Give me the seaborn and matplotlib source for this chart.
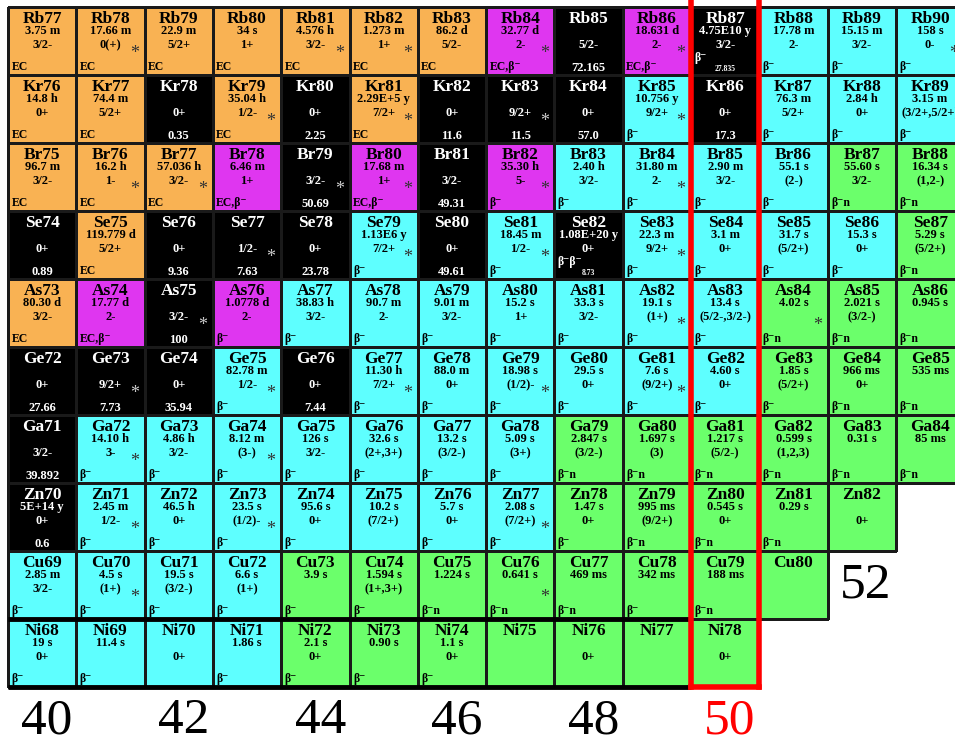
import numpy as np
import pandas as pd
import seaborn as sns
import matplotlib.pyplot as plt
from matplotlib.colors import ListedColormap

# chart of nuclides around N=50, one row per element (top row = highest Z)
ELEMENTS = ["Rb", "Kr", "Br", "Se", "As", "Ge", "Ga", "Zn", "Cu", "Ni"]
PROTONS = [37, 36, 35, 34, 33, 32, 31, 30, 29, 28]
NEUTRONS = list(range(40, 54))

# S stable, E EC, M EC+beta-, B beta-, N beta-n
KIND = [
    "EEEEEEEMSMSBBB",
    "EESESESSSBSBBB",
    "EEEMSMSMBBBBNN",
    "SESSSBSBSBBBBN",
    "EMSMBBBBBBBNNN",
    "SSSBSBBBBBBNNN",
    "SBBBBBBBNNNNNN",
    "SBBBBBBBNNNNN",
    "BBBBNNNNNNNN",
    "BBBBNNNNNNN",
]

HALF_LIFE = [
    ["3.75 m", "17.66 m", "22.9 m", "34 s", "4.576 h", "1.273 m", "86.2 d", "32.77 d", "", "18.631 d", "4.75E10 y", "17.78 m", "15.15 m", "158 s"],
    ["14.8 h", "74.4 m", "", "35.04 h", "", "2.29E+5 y", "", "", "", "10.756 y", "", "76.3 m", "2.84 h", "3.15 m"],
    ["96.7 m", "16.2 h", "57.036 h", "6.46 m", "", "17.68 m", "", "35.30 h", "2.40 h", "31.80 m", "2.90 m", "55.1 s", "55.60 s", "16.34 s"],
    ["", "119.779 d", "", "", "", "1.13E6 y", "", "18.45 m", "1.08E+20 y", "22.3 m", "3.1 m", "31.7 s", "15.3 s", "5.29 s"],
    ["80.30 d", "17.77 d", "", "1.0778 d", "38.83 h", "90.7 m", "9.01 m", "15.2 s", "33.3 s", "19.1 s", "13.4 s", "4.02 s", "2.021 s", "0.945 s"],
    ["", "", "", "82.78 m", "", "11.30 h", "88.0 m", "18.98 s", "29.5 s", "7.6 s", "4.60 s", "1.85 s", "966 ms", "535 ms"],
    ["", "14.10 h", "4.86 h", "8.12 m", "126 s", "32.6 s", "13.2 s", "5.09 s", "2.847 s", "1.697 s", "1.217 s", "0.599 s", "0.31 s", "85 ms"],
    ["5E+14 y", "2.45 m", "46.5 h", "23.5 s", "95.6 s", "10.2 s", "5.7 s", "2.08 s", "1.47 s", "995 ms", "0.545 s", "0.29 s", ""],
    ["2.85 m", "4.5 s", "19.5 s", "6.6 s", "3.9 s", "1.594 s", "1.224 s", "0.641 s", "469 ms", "342 ms", "188 ms", ""],
    ["19 s", "11.4 s", "", "1.86 s", "2.1 s", "0.90 s", "1.1 s", "", "", "", ""],
]

SPIN = [
    ["3/2-", "0(+)", "5/2+", "1+", "3/2-", "1+", "5/2-", "2-", "5/2-", "2-", "3/2-", "2-", "3/2-", "0-"],
    ["0+", "5/2+", "0+", "1/2-", "0+", "7/2+", "0+", "9/2+", "0+", "9/2+", "0+", "5/2+", "0+", "(3/2+,5/2+)"],
    ["3/2-", "1-", "3/2-", "1+", "3/2-", "1+", "3/2-", "5-", "3/2-", "2-", "3/2-", "(2-)", "3/2-", "(1,2-)"],
    ["0+", "5/2+", "0+", "1/2-", "0+", "7/2+", "0+", "1/2-", "0+", "9/2+", "0+", "(5/2+)", "0+", "(5/2+)"],
    ["3/2-", "2-", "3/2-", "2-", "3/2-", "2-", "3/2-", "1+", "3/2-", "(1+)", "(5/2-,3/2-)", "", "(3/2-)", ""],
    ["0+", "9/2+", "0+", "1/2-", "0+", "7/2+", "0+", "(1/2)-", "0+", "(9/2+)", "0+", "(5/2+)", "0+", ""],
    ["3/2-", "3-", "3/2-", "(3-)", "3/2-", "(2+,3+)", "(3/2-)", "(3+)", "(3/2-)", "(3)", "(5/2-)", "(1,2,3)", "", ""],
    ["0+", "1/2-", "0+", "(1/2)-", "0+", "(7/2+)", "0+", "(7/2+)", "0+", "(9/2+)", "0+", "", "0+"],
    ["3/2-", "(1+)", "(3/2-)", "(1+)", "", "(1+,3+)", "", "", "", "", "", ""],
    ["0+", "", "0+", "", "0+", "", "0+", "", "0+", "", "0+"],
]

DECAY = [
    ["EC", "EC", "EC", "EC", "EC", "EC", "EC", "ECb", "", "ECb", "b", "b", "b", "b"],
    ["EC", "EC", "", "EC", "", "EC", "", "", "", "b", "", "b", "b", "b"],
    ["EC", "EC", "EC", "ECb", "", "ECb", "", "b", "b", "b", "b", "b", "bn", "bn"],
    ["", "EC", "", "", "", "b", "", "b", "bb", "b", "b", "b", "b", "bn"],
    ["EC", "ECb", "", "b", "b", "b", "b", "b", "b", "b", "b", "bn", "bn", "bn"],
    ["", "", "", "b", "", "b", "b", "b", "b", "b", "b", "b", "bn", "bn"],
    ["", "b", "b", "b", "b", "b", "b", "b", "bn", "bn", "bn", "bn", "bn", "bn"],
    ["", "b", "b", "b", "b", "", "b", "b", "b", "bn", "bn", "bn", ""],
    ["b", "b", "b", "b", "b", "b", "bn", "bn", "bn", "b", "bn", ""],
    ["b", "b", "", "b", "b", "b", "b", "", "", "", ""],
]

# column index (N-40) of cells carrying an isomer mark
ISOMERS = [
    [1, 4, 5, 7, 9, 13],
    [3, 5, 7, 9],
    [1, 2, 4, 5, 7, 9],
    [3, 5, 7, 9],
    [2, 9, 11],
    [1, 3, 5, 7, 9],
    [1, 3],
    [1, 3, 7],
    [1, 7],
    [],
]

ABUNDANCE = [
    {8: "72.165", 10: "27.835"},
    {2: "0.35", 4: "2.25", 6: "11.6", 7: "11.5", 8: "57.0", 10: "17.3"},
    {4: "50.69", 6: "49.31"},
    {0: "0.89", 2: "9.36", 3: "7.63", 4: "23.78", 6: "49.61", 8: "8.73"},
    {2: "100"},
    {0: "27.66", 1: "7.73", 2: "35.94", 4: "7.44"},
    {0: "39.892"},
    {0: "0.6"},
    {},
    {},
]

N_LABELS = [40, 42, 44, 46, 48, 50]
MAGIC_N = 50

KIND_CODE = {"S": 0, "E": 1, "M": 2, "B": 3, "N": 4}
KIND_COLORS = ["#000000", "#F9B253", "#DF36F0", "#5EFFFF", "#6BFF6B"]
DECAY_TEXT = {"EC": "EC", "ECb": "EC,β⁻", "b": "β⁻", "bn": "β⁻n", "bb": "β⁻β⁻", "": ""}

grid = np.full((len(ELEMENTS), len(NEUTRONS)), np.nan)
for i, row in enumerate(KIND):
    for j, k in enumerate(row):
        grid[i, j] = KIND_CODE[k]
df = pd.DataFrame(grid, index=ELEMENTS, columns=NEUTRONS)

sns.set_style("white")
plt.rcParams["font.family"] = ["Liberation Serif", "DejaVu Serif"]

fig = plt.figure(figsize=(9.55, 7.45), dpi=100)
ax = fig.add_axes([0, 0, 1, 1])
sns.heatmap(df, cmap=ListedColormap(KIND_COLORS), vmin=-0.5, vmax=4.5, cbar=False,
            linewidths=0.8, linecolor="#1a1a1a", xticklabels=False, yticklabels=False, ax=ax)

# no borders on empty cells
mesh = ax.collections[0]
edges = [(0.1, 0.1, 0.1, 1.0) if not np.isnan(v) else (0, 0, 0, 0) for v in grid.ravel()]
mesh.set_edgecolors(edges)

for i, el in enumerate(ELEMENTS):
    for j, k in enumerate(KIND[i]):
        stable = k == "S"
        fg = "white" if stable else "black"
        cx = j + 0.5
        ax.text(cx, i + 0.235, f"{el}{PROTONS[i] + NEUTRONS[j]}", ha="center", va="baseline",
                fontsize=12.5, fontweight="bold", color=fg)
        if HALF_LIFE[i][j]:
            ax.text(cx, i + 0.40, HALF_LIFE[i][j], ha="center", va="baseline",
                    fontsize=9, fontweight="bold", color=fg)
        if SPIN[i][j]:
            ax.text(cx, i + 0.60, SPIN[i][j], ha="center", va="baseline",
                    fontsize=9, fontweight="bold", color=fg)
        dec = DECAY_TEXT[DECAY[i][j]]
        small = stable and dec != ""
        if dec:
            ax.text(j + 0.05, i + (0.80 if small else 0.925), dec, ha="left", va="baseline",
                    fontsize=8.5, fontweight="bold", color=fg)
        if j in ABUNDANCE[i]:
            ax.text(cx, i + 0.94, ABUNDANCE[i][j], ha="center", va="baseline",
                    fontsize=5.5 if small else 9, fontweight="bold", color=fg)
        if j in ISOMERS[i]:
            ax.text(j + 0.85, i + 0.68, "*", ha="center", va="center", fontsize=13,
                    color="#cccccc" if stable else "#333333")

# Z=28 shell closure
last = NEUTRONS.index(MAGIC_N)
ax.plot([0, last], [9, 9], color="black", lw=3.5, solid_capstyle="butt")
ax.plot([0, last], [10, 10], color="black", lw=3.5, solid_capstyle="butt")

# N=50 shell closure
ax.plot([last, last], [-0.3, 10], color="red", lw=4, solid_capstyle="projecting")
ax.plot([last + 1, last + 1], [-0.3, 10], color="red", lw=4, solid_capstyle="projecting")
ax.plot([last, last + 1], [10, 10], color="red", lw=4, solid_capstyle="projecting")

for n in N_LABELS:
    ax.text(n - NEUTRONS[0] + 0.57, 10.5, str(n), ha="center", va="center", fontsize=37,
            color="red" if n == MAGIC_N else "black")
ax.text(52 - NEUTRONS[0] + 0.55, 8.5, "52", ha="center", va="center", fontsize=37, color="black")

ax.set_xlim(-0.117, 13.865)
ax.set_ylim(10.853, -0.103)
ax.axis("off")

fig.savefig("out.png", dpi=100)
plt.close(fig)
